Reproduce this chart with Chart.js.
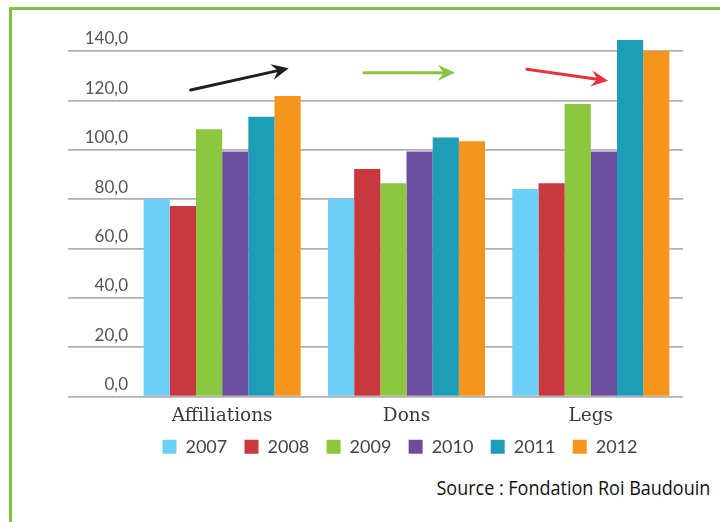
<!DOCTYPE html>
<html>
<head>
<meta charset="utf-8">
<script src="https://cdn.jsdelivr.net/npm/chart.js@4.4.1/dist/chart.umd.min.js"></script>
<style>
  html, body { margin:0; padding:0; background:#fff; width:720px; height:522px; overflow:hidden; }
  #frame { position:absolute; left:9px; top:7px; width:800px; height:600px; border:3px solid #7dc242; box-sizing:border-box; }
  #chart { position:absolute; left:0; top:0; }
  #source { position:absolute; right:10px; top:474px; font-family:"Open Sans", sans-serif; font-size:20px; color:#111;
            transform:scaleX(0.9); transform-origin:right center; white-space:nowrap; }
</style>
</head>
<body>
<div id="frame"></div>
<canvas id="chart" width="720" height="470"></canvas>
<div id="source">Source : Fondation Roi Baudouin</div>
<script>
const categories = ['Affiliations', 'Dons', 'Legs'];
const years = ['2007', '2008', '2009', '2010', '2011', '2012'];
const colors = ['#6dcff6', '#c9373f', '#8dc63f', '#6b4f9e', '#1d9db6', '#f7941d'];

const v2007 = [80.1, 80.1, 84.1];
const v2008 = [77.2, 92.2, 86.4];
const v2009 = [108.3, 86.4, 118.5];
const v2010 = [99.3, 99.3, 99.3];
const v2011 = [113.4, 104.9, 144.5];
const v2012 = [121.8, 103.4, 140.0];
const series = [v2007, v2008, v2009, v2010, v2011, v2012];

const yTicks = [0, 20, 40, 60, 80, 100, 120, 140];

// trend arrows above each group: [category index offset, value]
const arrows = [
  { from:[-0.171, 124.2], to:[0.361, 133.0], color:'#1f1f1f' },
  { from:[1 - 0.231, 131.2], to:[1 + 0.262, 131.2], color:'#86c540' },
  { from:[2 - 0.347, 132.6], to:[2 + 0.094, 127.9], color:'#e5323e' }
];

const arrowPlugin = {
  id:'arrows',
  afterLayout(chart){
    // labels overflow their narrow axis boxes, widen the clip regions
    chart.scales.y.left = 0;
    chart.scales.x.bottom = chart.height;
  },
  afterDatasetsDraw(chart){
    const {ctx, scales:{x, y}} = chart;
    arrows.forEach(a => {
      const x1 = x.getPixelForValue(a.from[0]), y1 = y.getPixelForValue(a.from[1]);
      const x2 = x.getPixelForValue(a.to[0]), y2 = y.getPixelForValue(a.to[1]);
      const ang = Math.atan2(y2 - y1, x2 - x1);
      const len = 17, half = 8, notch = 11;
      ctx.save();
      ctx.strokeStyle = a.color; ctx.fillStyle = a.color; ctx.lineWidth = 3; ctx.lineCap = 'round';
      ctx.beginPath();
      ctx.moveTo(x1, y1);
      ctx.lineTo(x2 - Math.cos(ang) * notch, y2 - Math.sin(ang) * notch);
      ctx.stroke();
      ctx.translate(x2, y2); ctx.rotate(ang);
      ctx.beginPath();
      ctx.moveTo(0, 0);
      ctx.lineTo(-len, -half);
      ctx.lineTo(-notch, 0);
      ctx.lineTo(-len, half);
      ctx.closePath();
      ctx.fill();
      ctx.restore();
    });
  }
};

new Chart(document.getElementById('chart'), {
  type:'bar',
  data:{
    labels: categories,
    datasets: years.map((yr, i) => ({
      label: yr, data: series[i], backgroundColor: colors[i], borderWidth:0,
      categoryPercentage:0.852, barPercentage:1, clip:false
    }))
  },
  options:{
    responsive:false, animation:false, devicePixelRatio:1,
    layout:{ padding:{ left:117, right:37, top:51, bottom:4.3 } },
    plugins:{
      tooltip:{ enabled:false },
      legend:{
        position:'bottom',
        labels:{ boxWidth:14, boxHeight:14, padding:17.3, color:'#444',
                 font:{ family:'Lato', size:18 } }
      }
    },
    scales:{
      x:{
        grid:{ display:false, drawTicks:false },
        border:{ display:false },
        ticks:{ padding:9, color:'#3a3a3a', font:{ family:'DejaVu Serif', size:18.5 } },
        afterFit(s){ s.height = 23.9; }
      },
      y:{
        min:0, max:140,
        afterBuildTicks(s){ s.ticks = yTicks.map(v => ({ value:v })); },
        ticks:{
          labelOffset:-12, padding:-60, color:'#555',
          font:{ family:'Lato', size:17 },
          callback: v => v.toFixed(1).replace('.', ',')
        },
        grid:{ color:'#b0b0b0', lineWidth:1.7, tickLength:62, drawTicks:true },
        border:{ display:false },
        afterFit(s){ s.width = 13; }
      }
    }
  },
  plugins:[arrowPlugin]
});
</script>
</body>
</html>
